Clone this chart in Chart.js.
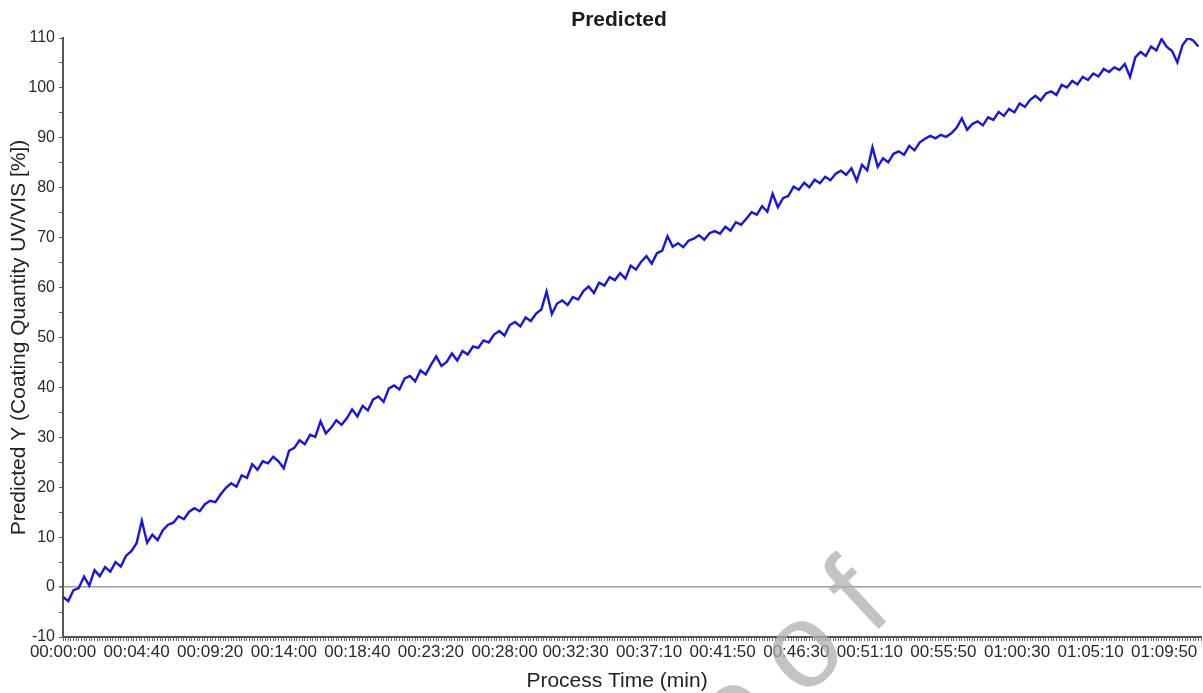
<!DOCTYPE html>
<html>
<head>
<meta charset="utf-8">
<title>Predicted</title>
<script src="https://cdn.jsdelivr.net/npm/chart.js@4.4.1/dist/chart.umd.min.js"></script>
<style>
  html, body { margin: 0; padding: 0; background: #ffffff; }
  #wrap { position: relative; width: 1203px; height: 693px; }
</style>
</head>
<body>
<div id="wrap"><canvas id="chart"></canvas></div>
<script>
// Sampling interval of the predicted coating quantity, in seconds
const SAMPLE_SEC = 20;

// Predicted Y (Coating Quantity UV/VIS [%]), one value per sample
const predicted = [
  -2.0, -2.8, -0.6, -0.2, 2.1, 0.3, 3.4, 2.2, 4.0, 3.1,
  5.0, 4.1, 6.3, 7.2, 8.8, 13.3, 8.9, 10.5, 9.4, 11.4,
  12.5, 12.9, 14.2, 13.6, 15.1, 15.8, 15.2, 16.6, 17.3, 17.0,
  18.6, 19.9, 20.8, 20.1, 22.4, 21.9, 24.6, 23.5, 25.2, 24.8,
  26.1, 25.2, 23.8, 27.3, 27.9, 29.4, 28.6, 30.5, 30.1, 33.2,
  30.8, 31.9, 33.4, 32.5, 33.8, 35.6, 34.2, 36.3, 35.4, 37.6,
  38.2, 37.1, 39.8, 40.4, 39.6, 41.8, 42.3, 41.2, 43.4, 42.6,
  44.5, 46.2, 44.3, 45.1, 46.8, 45.4, 47.3, 46.6, 48.2, 47.9,
  49.4, 49.0, 50.6, 51.3, 50.4, 52.5, 53.1, 52.2, 54.0, 53.3,
  54.8, 55.6, 59.2, 54.7, 56.8, 57.4, 56.5, 58.1, 57.6, 59.3,
  60.2, 58.9, 61.0, 60.4, 62.1, 61.5, 62.9, 61.8, 64.4, 63.6,
  65.2, 66.3, 64.8, 66.9, 67.4, 70.3, 68.2, 68.9, 68.1, 69.4,
  69.8, 70.5, 69.6, 70.9, 71.3, 70.8, 72.2, 71.4, 73.1, 72.6,
  73.8, 75.1, 74.6, 76.3, 75.2, 78.8, 76.1, 77.9, 78.4, 80.2,
  79.6, 81.0, 80.1, 81.6, 80.9, 82.2, 81.5, 82.8, 83.4, 82.6,
  83.9, 81.4, 84.6, 83.5, 88.1, 84.2, 85.9, 85.1, 86.8, 87.3,
  86.6, 88.4, 87.5, 89.1, 89.8, 90.4, 89.9, 90.6, 90.2, 90.9,
  92.0, 93.9, 91.6, 92.8, 93.3, 92.5, 94.1, 93.6, 95.2, 94.4,
  95.8, 95.1, 96.9, 96.2, 97.6, 98.4, 97.5, 98.9, 99.3, 98.6,
  100.6, 100.1, 101.4, 100.7, 102.2, 101.6, 102.9, 102.3, 103.8, 103.2,
  104.1, 103.6, 104.8, 102.2, 106.1, 107.2, 106.4, 108.3, 107.5, 109.8,
  108.2, 107.4, 105.1, 108.6, 110.0, 109.5, 108.3
];

// Labelled process-time ticks (hh:mm:ss)
const timeTickLabels = [
  '00:00:00', '00:04:40', '00:09:20', '00:14:00', '00:18:40', '00:23:20',
  '00:28:00', '00:32:30', '00:37:10', '00:41:50', '00:46:30', '00:51:10',
  '00:55:50', '01:00:30', '01:05:10', '01:09:50'
];

const TIME_END_SEC = 4330;     // end of the time axis
const MINOR_STEP_SEC = 10;     // spacing of the small tick marks on the time axis

const toSeconds = s => {
  const [h, m, sec] = s.split(':').map(Number);
  return h * 3600 + m * 60 + sec;
};
const labelBySecond = new Map(timeTickLabels.map(l => [toSeconds(l), l]));

const points = predicted.map((y, i) => ({ x: i * SAMPLE_SEC, y }));

const FONT = "'Liberation Sans', Arial, Helvetica, sans-serif";

// Chart heading, horizontal axis caption and the light diagonal stamp
const captions = {
  id: 'captions',
  afterDraw(chart) {
    const c = chart.ctx;
    c.save();
    c.fillStyle = '#1a1a1a';
    c.textAlign = 'center';
    c.textBaseline = 'middle';
    c.font = 'bold 21px ' + FONT;
    c.fillText('Predicted', 619, 20);
    c.font = '21px ' + FONT;
    c.fillStyle = '#222222';
    c.fillText('Process Time (min)', 617, 681);

    c.translate(915, 595);
    c.rotate(-43 * Math.PI / 180);
    c.font = '120px ' + FONT;
    c.letterSpacing = '27px';
    c.textAlign = 'right';
    c.textBaseline = 'alphabetic';
    c.fillStyle = 'rgba(175,175,175,0.75)';
    c.fillText('Journal Pre-proof', 0, 0);
    c.restore();
  }
};

new Chart(document.getElementById('chart'), {
  type: 'line',
  data: {
    datasets: [{
      label: 'Predicted',
      data: points,
      borderColor: '#1616de',
      borderWidth: 2.4,
      pointRadius: 0,
      tension: 0,
      fill: false
    }]
  },
  options: {
    responsive: true,
    maintainAspectRatio: false,
    animation: false,
    layout: { padding: { top: 38, right: 2, left: 0, bottom: 0 } },
    plugins: {
      legend: { display: false },
      tooltip: { enabled: false },
      title: { display: false }
    },
    scales: {
      x: {
        type: 'linear',
        min: 0,
        max: TIME_END_SEC,
        afterBuildTicks(scale) {
          const ticks = [];
          for (let v = 0; v <= TIME_END_SEC; v += MINOR_STEP_SEC) ticks.push({ value: v });
          scale.ticks = ticks;
        },
        afterFit(scale) { scale.height = 56; },
        ticks: {
          autoSkip: false,
          maxRotation: 0,
          minRotation: 0,
          padding: 1,
          color: '#2a2a2a',
          font: { family: FONT, size: 17 },
          callback: v => labelBySecond.get(v) || ''
        },
        grid: {
          drawOnChartArea: false,
          drawTicks: true,
          tickLength: 4,
          tickColor: '#6a6a6a',
          tickWidth: 1
        },
        border: { display: true, color: '#555555', width: 2 },
        title: { display: false }
      },
      y: {
        min: -10,
        max: 110,
        afterFit(scale) { scale.width = 63; },
        ticks: {
          stepSize: 5,
          padding: 4,
          color: '#2a2a2a',
          font: { family: FONT, size: 16 },
          callback: v => (v % 10 === 0 ? String(v) : '')
        },
        grid: {
          drawOnChartArea: true,
          tickLength: 4,
          color: ctx => (ctx.tick && ctx.tick.value === 0 ? '#9c9c9c' : 'rgba(0,0,0,0)'),
          lineWidth: ctx => (ctx.tick && ctx.tick.value === 0 ? 1.5 : 1),
          tickColor: '#666666'
        },
        border: { display: true, color: '#555555', width: 2 },
        title: {
          display: true,
          text: 'Predicted Y (Coating Quantity UV/VIS [%])',
          color: '#222222',
          font: { family: FONT, size: 21 },
          padding: { top: 7, bottom: 0 }
        }
      }
    }
  },
  plugins: [captions]
});
</script>
</body>
</html>
